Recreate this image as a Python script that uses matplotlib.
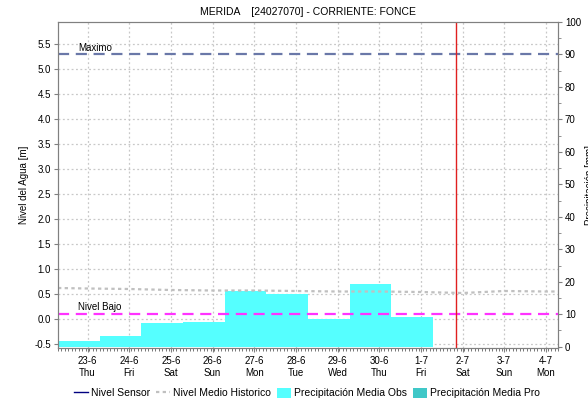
import datetime
import matplotlib
matplotlib.use("Agg")
import matplotlib.pyplot as plt
import matplotlib.dates as mdates
import matplotlib.transforms as mtransforms
from matplotlib.lines import Line2D
from matplotlib.patches import Patch

plt.rcParams['font.family'] = ['Liberation Sans', 'DejaVu Sans']

# Daily precipitation (07:00 -> 07:00), mm
precip_start = [datetime.datetime(2022, 6, d, 7) for d in range(21, 31)]
precip_obs = [7.4, 1.9, 3.2, 7.3, 7.6, 17.3, 16.3, 8.5, 19.4, 9.0]

# Historical mean level, m
hist_dates = [datetime.datetime(2022, 6, 22, 7)] + \
    [datetime.datetime(2022, 6, d) for d in range(23, 31)] + \
    [datetime.datetime(2022, 7, d) for d in range(1, 5)] + \
    [datetime.datetime(2022, 7, 4, 7)]
hist_level = [0.62, 0.61, 0.60, 0.58, 0.57, 0.57, 0.56, 0.55, 0.55, 0.54,
              0.52, 0.56, 0.55, 0.55]

nivel_maximo = 5.3
nivel_bajo = 0.1
now = datetime.datetime(2022, 7, 1, 20, 30)
x_start = datetime.datetime(2022, 6, 22, 7)
x_end = datetime.datetime(2022, 7, 4, 7)

fig = plt.figure(figsize=(5.88, 4.03), dpi=100)
ax = fig.add_axes([58 / 588, 1 - 348 / 403, 500 / 588, 326 / 403])
ax2 = ax.twinx()

ax.set_xlim(x_start, x_end)
ax.set_ylim(-0.58, 5.94)
ax2.set_ylim(-0.4, 100)

ax.set_axisbelow(True)
ax.grid(True, color='#c8c8c8', linestyle=(0, (1.5, 2)), linewidth=0.9)

# precipitation bars, drawn in the right-axis scale
ax.bar(precip_start, precip_obs, width=1.0, align='edge', color='#55ffff',
       edgecolor='none', transform=ax2.transData, zorder=1)

ax.plot(hist_dates, hist_level, color='#c0c0c0', linestyle=(0, (1.5, 1.5)),
        linewidth=1.6, zorder=2)
ax.axhline(nivel_maximo, color='#6a78a8', linestyle=(0, (5, 3)), linewidth=1.6, zorder=3)
ax.axhline(nivel_bajo, color='#ff33ff', linestyle=(0, (5, 3)), linewidth=1.6, zorder=3)
ax.axvline(now, color='#e02020', linewidth=1.0, zorder=4)

trans = mtransforms.blended_transform_factory(ax.transAxes, ax.transData)
ax.text(0.04, nivel_maximo + 0.03, 'Maximo', transform=trans, fontsize=7,
        ha='left', va='bottom')
ax.text(0.04, nivel_bajo + 0.03, 'Nivel Bajo', transform=trans, fontsize=7,
        ha='left', va='bottom')

# axes styling
for a in (ax, ax2):
    for s in a.spines.values():
        s.set_color('#808080')

ax.set_yticks([-0.5, 0.0, 0.5, 1.0, 1.5, 2.0, 2.5, 3.0, 3.5, 4.0, 4.5, 5.0, 5.5])
ax.yaxis.set_major_formatter(matplotlib.ticker.FormatStrFormatter('%.1f'))
ax.tick_params(axis='y', labelsize=7, length=3, color='#808080', pad=2)
ax.set_ylabel('Nivel del Agua [m]', fontsize=7, labelpad=4)

ax2.set_yticks(range(0, 101, 10))
ax2.yaxis.set_minor_locator(matplotlib.ticker.MultipleLocator(5))
ax2.tick_params(axis='y', which='major', labelsize=7, length=3, color='#808080', pad=2)
ax2.tick_params(axis='y', which='minor', length=2, color='#808080')

ax.xaxis.set_major_locator(mdates.DayLocator())
ax.xaxis.set_major_formatter(mdates.DateFormatter('%-d-%-m\n%a'))
ax.xaxis.set_minor_locator(mdates.HourLocator(interval=2))
ax.tick_params(axis='x', which='major', labelsize=7, length=3, color='#808080', pad=3)
ax.tick_params(axis='x', which='minor', length=2, color='#606060')

ax.set_title('MERIDA    [24027070] - CORRIENTE: FONCE', fontsize=7.5, pad=5)

fig.text(585 / 588, 0.54, 'Precipitación [mm]', rotation=90, fontsize=7,
         ha='left', va='center')

handles = [
    Line2D([], [], color='#000080', linewidth=1.0),
    Line2D([], [], color='#c0c0c0', linestyle=(0, (1.5, 1.5)), linewidth=1.6),
    Patch(facecolor='#55ffff', edgecolor='none'),
    Patch(facecolor='#40c8c8', edgecolor='none'),
]
labels = ['Nivel Sensor', 'Nivel Medio Historico', 'Precipitación Media Obs',
          'Precipitación Media Pro']
fig.legend(handles, labels, loc='center', bbox_to_anchor=(307 / 588, 1 - 393 / 403),
           ncol=4, frameon=False, fontsize=7.5, handlelength=1.3, handletextpad=0.3,
           columnspacing=0.6, handleheight=1.2)

fig.savefig('out.png', dpi=100)
